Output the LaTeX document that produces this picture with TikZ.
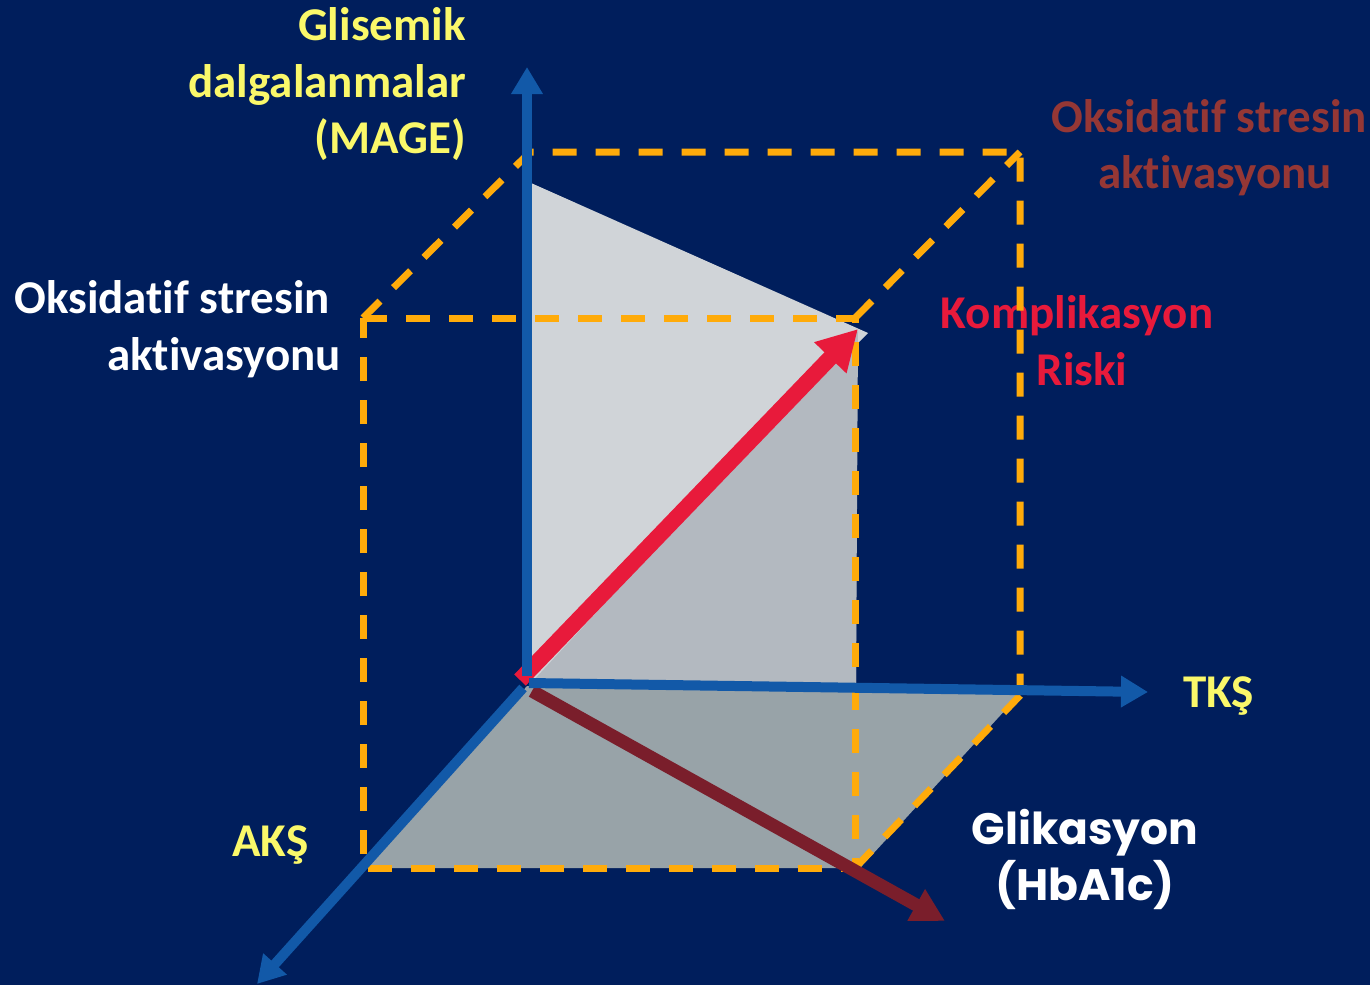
\documentclass[tikz,border=0pt]{standalone}
\usepackage{fontspec}
\setmainfont{Carlito}[RawFeature={-liga;-clig;-dlig;-calt}]
\newfontfamily\glifont{Poppins}
\newcommand\nolig{\kern0pt{}}
\usetikzlibrary{arrows.meta}
\definecolor{bg}{HTML}{001E5C}
\definecolor{axblue}{HTML}{1259A8}
\definecolor{orng}{HTML}{FFAB0A}
\definecolor{ylw}{HTML}{FAF86A}
\definecolor{dredtxt}{HTML}{953735}
\definecolor{crim}{HTML}{E81A3B}
\definecolor{dred}{HTML}{7A1E2B}
\definecolor{plight}{HTML}{D0D4D8}
\definecolor{pmid}{HTML}{B3B9C0}
\definecolor{pbot}{HTML}{98A3A8}
\tikzset{
  lbl/.style={inner sep=0pt, font=\bfseries\fontsize{47}{57}\selectfont},
  glbl/.style={inner sep=0pt, text=white, font=\glifont\bfseries\fontsize{44}{57}\selectfont},
  dashline/.style={draw=orng, line width=7pt, dash pattern=on 24pt off 19pt},
  axisarrow/.style={draw=axblue, line width=10pt, -{Triangle[length=27pt,width=30pt]}},
  riskarrow/.style={draw=crim, line width=16pt, -{Triangle[length=40pt,width=42pt]}},
  glyarrow/.style={draw=dred, line width=13pt, -{Triangle[length=33pt,width=34pt]}}
}
\begin{document}
\begin{tikzpicture}[x=1pt,y=-1pt]
\fill[bg] (0,0) rectangle (1370,985);
\useasboundingbox (0,0) rectangle (1370,985);
% coordinates
\coordinate (Yo) at (527,676);
\coordinate (Ytip) at (527,67);
\coordinate (Xo) at (529,683);
\coordinate (Xtip) at (1148,692);
\coordinate (Zo) at (523,688);
\coordinate (Ztip) at (257,984);
\coordinate (Ro) at (520,680);
\coordinate (Rtip) at (858,329);
\coordinate (Go) at (532,691);
\coordinate (Gtip) at (945,921);
% front box corners
\coordinate (F1) at (363,318);
\coordinate (F2) at (855,318);
\coordinate (F3) at (855,868);
\coordinate (F4) at (363,868);
% back corners
\coordinate (B1) at (530,152);
\coordinate (B2) at (1020,152);
\coordinate (B3) at (1020,692);
\coordinate (B4) at (1032,683);
% planes
\fill[plight] (531,183) -- (868,333) -- (856,345) -- (856,683) -- (531,683) -- cycle;
\fill[pmid] (531,683) -- (858,331) -- (856,683) -- cycle;
\fill[pbot] (527,686) -- (1020,694) -- (860,868) -- (364,868) -- cycle;
% labels
\node[lbl, text=ylw, anchor=base east] (glisA) at (466,40) {Glisemik};
\node[lbl, text=ylw, anchor=base east] (glisB) at (466,97) {dalgalanmalar};
\node[lbl, text=ylw, anchor=base east] (glisC) at (466,153) {(MAGE)};
\node[lbl, text=white, anchor=base east] (oksA) at (330,313) {Oksidat\nolig if stresin};
\node[lbl, text=white, anchor=base east] (oksB) at (341,370) {akt\nolig ivasyonu};
\node[lbl, text=dredtxt, anchor=base] (oksC) at (1209,132) {Oksidat\nolig if stresin};
\node[lbl, text=dredtxt, anchor=base] (oksD) at (1215,188) {akt\nolig ivasyonu};
\node[lbl, text=crim, anchor=base] (kompA) at (1077,328) {Komplikasyon};
\node[lbl, text=crim, anchor=base] (kompB) at (1082,385) {Riski};
\node[lbl, text=ylw, anchor=base west] (tks) at (1183,707) {TKŞ};
\node[lbl, text=ylw, anchor=base west] (aks) at (232,856) {AKŞ};
\node[glbl, anchor=base] (gliA) at (1085,844) {Glikasyon};
\node[glbl, anchor=base] (gliB) at (1085,900) {(HbA1c)};
% dashed box
\draw[dashline] (F1) -- (F2) -- (F3) -- (F4) -- cycle;
\draw[dashline] (F1) -- (B1) -- (B2) -- (B3);
\draw[dashline] (F2) -- (B2);
\draw[dashline] (F3) -- (B4);
% arrows
\draw[riskarrow] (Ro) -- (Rtip);
\draw[glyarrow] (Go) -- (Gtip);
\draw[axisarrow] (Yo) -- (Ytip);
\draw[axisarrow] (Xo) -- (Xtip);
\draw[axisarrow] (Zo) -- (Ztip);
\end{tikzpicture}
\end{document}
